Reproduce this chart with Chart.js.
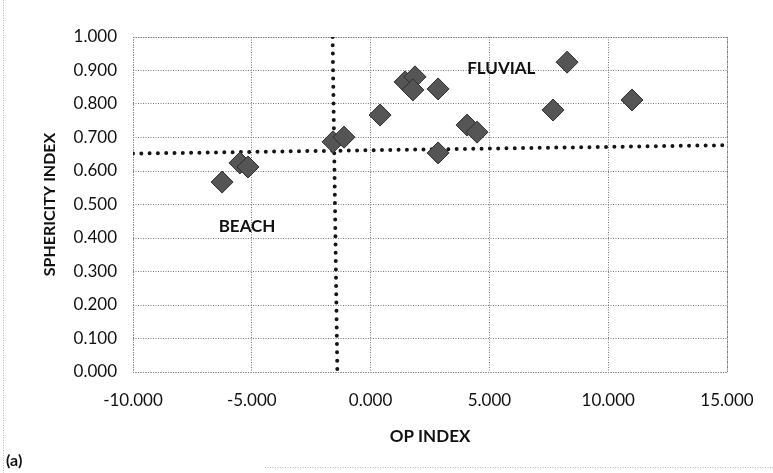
<!DOCTYPE html>
<html>
<head>
<meta charset="utf-8">
<script src="https://cdn.jsdelivr.net/npm/chart.js@4/dist/chart.umd.min.js"></script>
<style>
html,body{margin:0;padding:0;background:#fff;}
#wrap{width:773px;height:473px;position:relative;}
canvas{display:block;}
</style>
</head>
<body>
<div id="wrap"><canvas id="c" width="773" height="473"></canvas></div>
<script>
// ---- data ----
const opIndex    = [-6.25, -5.50, -5.16, -1.58, -1.12, 0.40, 1.45, 1.87, 1.78, 2.84, 2.84, 4.06, 4.48, 7.68, 8.27, 11.00];
const sphericity = [0.567, 0.624, 0.612, 0.687, 0.701, 0.767, 0.866, 0.881, 0.842, 0.845, 0.654, 0.737, 0.716, 0.782, 0.925, 0.812];

const xTicks = [-10, -5, 0, 5, 10, 15];
const yTicks = [0, 0.1, 0.2, 0.3, 0.4, 0.5, 0.6, 0.7, 0.8, 0.9, 1.0];

// dotted dividing lines (as drawn, slightly skewed by the scan)
const vLineX = [-1.60, -1.40];
const vLineY = [1.0, 0.0];
const hLineX = [-10, 15];
const hLineY = [0.652, 0.677];

// zone labels
const zoneNames = ['FLUVIAL', 'BEACH'];
const zoneX = [5.5, -5.2];
const zoneY = [0.907, 0.433];

const xTitle = 'OP INDEX';
const yTitle = 'SPHERICITY INDEX';
const panelLabel = '(a)';

const FONT = 'Lato, "Open Sans", "Liberation Sans", sans-serif';

const toPts = (xs, ys) => xs.map((x, i) => ({x: x, y: ys[i]}));

const decor = {
  id: 'decor',
  beforeDatasetsDraw(chart) {
    const {ctx, chartArea: a} = chart;
    ctx.save();
    ctx.strokeStyle = '#7a7a7a';
    ctx.lineWidth = 1;
    ctx.setLineDash([1, 1.5]);
    ctx.strokeRect(a.left + 0.5, a.top + 0.5, a.right - a.left, a.bottom - a.top);
    // outer chart border fragments
    ctx.strokeStyle = '#b5b5b5';
    ctx.beginPath();
    ctx.moveTo(3.5, 0); ctx.lineTo(3.5, 473);
    ctx.moveTo(265, 467.5); ctx.lineTo(773, 467.5);
    ctx.stroke();
    ctx.restore();
  },
  afterDatasetsDraw(chart) {
    const {ctx, scales} = chart;
    ctx.save();
    ctx.fillStyle = '#111';
    ctx.font = 'bold 17px ' + FONT;
    ctx.textAlign = 'center';
    ctx.textBaseline = 'middle';
    zoneNames.forEach((t, i) => {
      ctx.fillText(t, scales.x.getPixelForValue(zoneX[i]), scales.y.getPixelForValue(zoneY[i]));
    });
    ctx.textAlign = 'left';
    ctx.font = 'bold 16px ' + FONT;
    ctx.fillText(panelLabel, 6, 461);
    ctx.restore();
  }
};

new Chart(document.getElementById('c'), {
  type: 'scatter',
  data: {
    datasets: [
      {
        label: 'samples',
        data: toPts(opIndex, sphericity),
        pointStyle: 'rectRot',
        pointRadius: 11,
        pointHoverRadius: 11,
        backgroundColor: '#555555',
        borderColor: '#2e2e2e',
        borderWidth: 1
      },
      {
        label: 'vertical divide',
        data: toPts(vLineX, vLineY),
        showLine: true,
        pointRadius: 0,
        borderColor: '#151515',
        borderWidth: 4,
        borderDash: [0, 8.3],
        borderCapStyle: 'round',
        fill: false
      },
      {
        label: 'horizontal divide',
        data: toPts(hLineX, hLineY),
        showLine: true,
        pointRadius: 0,
        borderColor: '#151515',
        borderWidth: 4,
        borderDash: [0, 8.3],
        borderCapStyle: 'round',
        fill: false
      }
    ]
  },
  options: {
    responsive: false,
    animation: false,
    devicePixelRatio: 1,
    layout: {padding: {top: 37, right: 46, bottom: 0, left: 0}},
    plugins: {legend: {display: false}, tooltip: {enabled: false}},
    scales: {
      x: {
        type: 'linear',
        min: xTicks[0],
        max: xTicks[xTicks.length - 1],
        afterBuildTicks: s => { s.ticks = xTicks.map(v => ({value: v})); },
        afterFit: s => { s.height = 101; },
        grid: {color: '#7a7a7a', lineWidth: 1, drawTicks: false},
        border: {display: false, dash: [1, 1.5]},
        ticks: {
          padding: 18,
          color: '#111',
          font: {family: FONT, size: 17},
          callback: v => Number(v).toFixed(3)
        },
        title: {
          display: true,
          text: xTitle,
          color: '#111',
          font: {family: FONT, size: 17, weight: 'bold'},
          padding: {top: 0, bottom: 26}
        }
      },
      y: {
        type: 'linear',
        min: yTicks[0],
        max: yTicks[yTicks.length - 1],
        afterBuildTicks: s => { s.ticks = yTicks.map(v => ({value: v})); },
        afterFit: s => { s.width = 133; },
        grid: {color: '#7a7a7a', lineWidth: 1, drawTicks: false},
        border: {display: false, dash: [1, 1.5]},
        ticks: {
          padding: 16,
          color: '#111',
          font: {family: FONT, size: 17},
          callback: v => Number(v).toFixed(3)
        },
        title: {
          display: true,
          text: yTitle,
          color: '#111',
          font: {family: FONT, size: 16, weight: 'bold'},
          padding: {top: 40, bottom: 0}
        }
      }
    }
  },
  plugins: [decor]
});
</script>
</body>
</html>
